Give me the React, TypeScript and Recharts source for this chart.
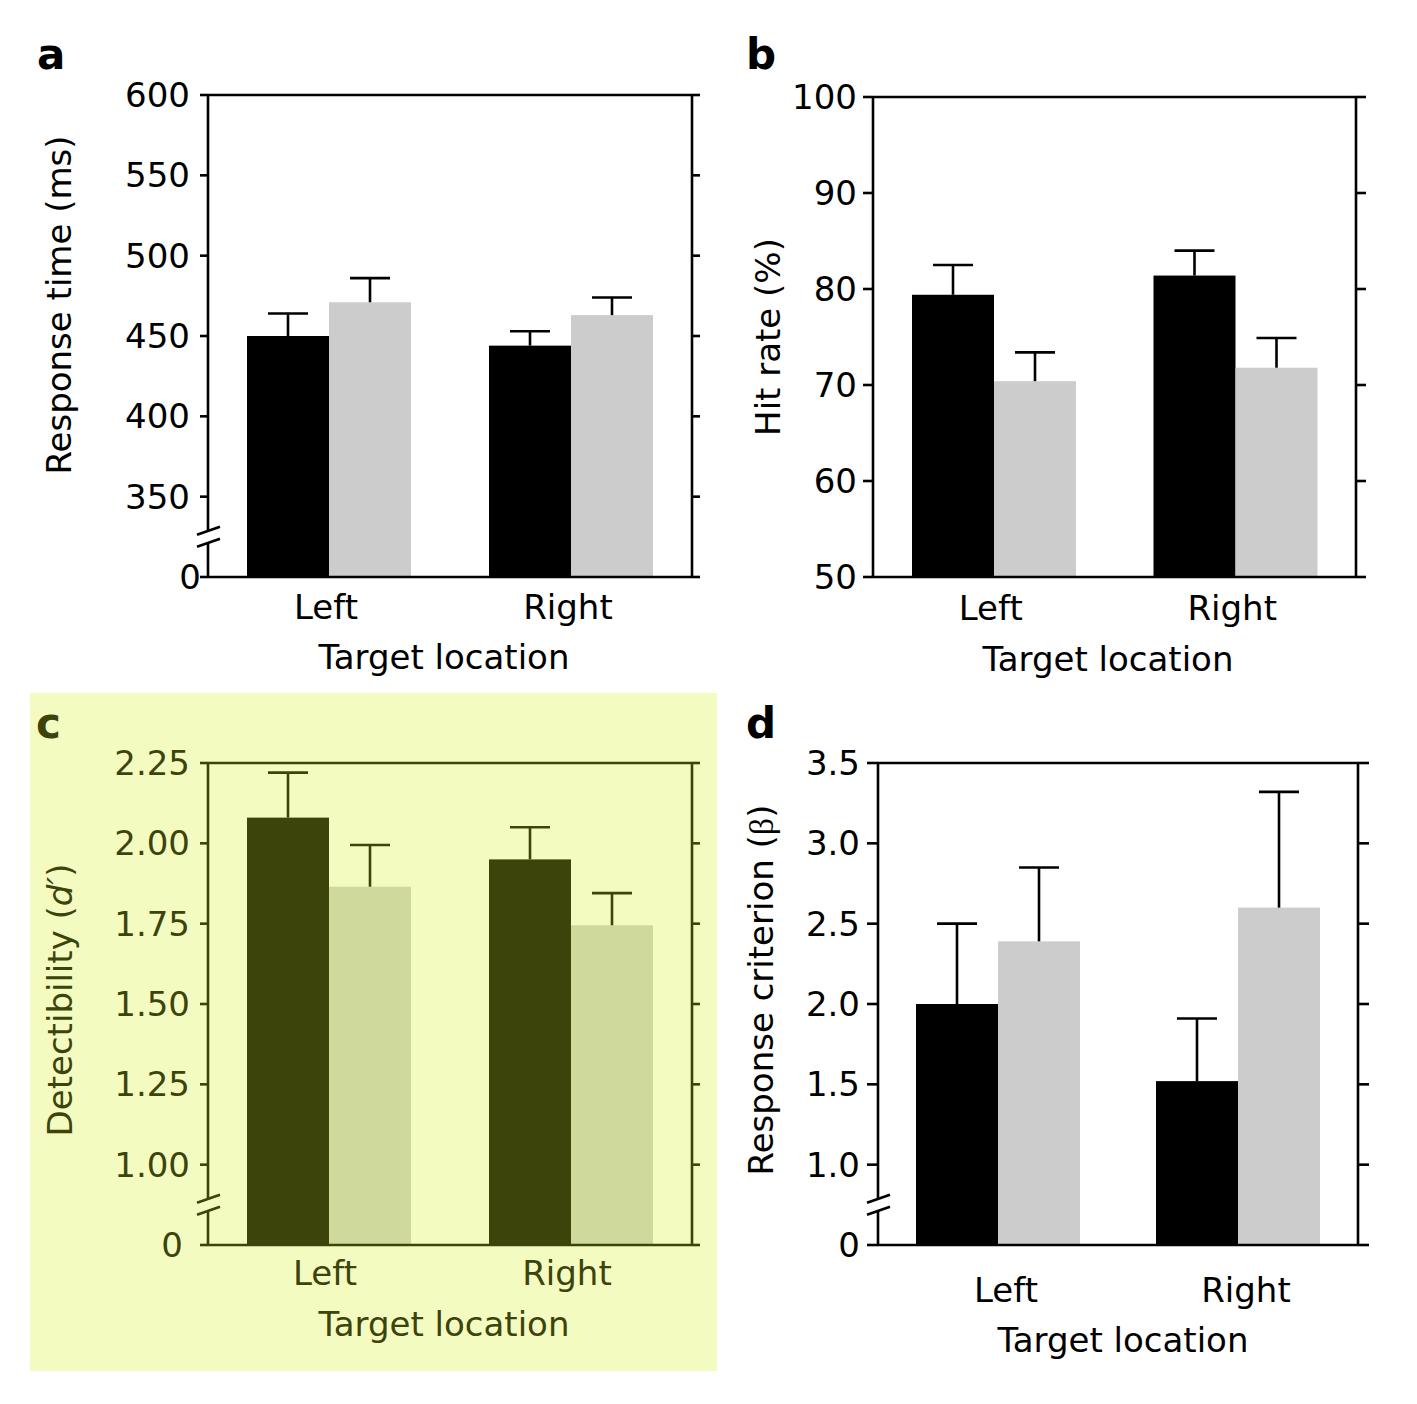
import React from 'react';
import { BarChart, Bar, XAxis, YAxis, ReferenceLine } from 'recharts';

const categories = ['Left', 'Right'];

// a: response time (ms)
const rtDark = [450, 444];
const rtDarkErr = [14, 9];
const rtLight = [471, 463];
const rtLightErr = [15, 11];
const rtTicks = [300, 350, 400, 450, 500, 550, 600];
const rtTickLabels = ['0', '350', '400', '450', '500', '550', '600'];

// b: hit rate (%)
const hitDark = [79.4, 81.4];
const hitDarkErr = [3.1, 2.6];
const hitLight = [70.4, 71.8];
const hitLightErr = [3.0, 3.1];
const hitTicks = [50, 60, 70, 80, 90, 100];
const hitTickLabels = ['50', '60', '70', '80', '90', '100'];

// c: detectibility d'
const dpDark = [2.08, 1.95];
const dpDarkErr = [0.14, 0.1];
const dpLight = [1.865, 1.745];
const dpLightErr = [0.13, 0.1];
const dpTicks = [0.75, 1, 1.25, 1.5, 1.75, 2, 2.25];
const dpTickLabels = ['0', '1.00', '1.25', '1.50', '1.75', '2.00', '2.25'];

// d: response criterion beta
const betaDark = [2.0, 1.52];
const betaDarkErr = [0.5, 0.39];
const betaLight = [2.39, 2.6];
const betaLightErr = [0.46, 0.72];
const betaTicks = [0.5, 1, 1.5, 2, 2.5, 3, 3.5];
const betaTickLabels = ['0', '1.0', '1.5', '2.0', '2.5', '3.0', '3.5'];

const FONT = "'DejaVu Sans', sans-serif";
const SW = 2.6;
const TICK_MARGIN = 10;

const rows = (dark: number[], darkErr: number[], light: number[], lightErr: number[]) =>
  categories.map((name, i) => ({
    name,
    dark: dark[i],
    darkErr: darkErr[i],
    light: light[i],
    lightErr: lightErr[i],
  }));

// bar + upward-only error bar, scaled from the bar the library drew
const barShape = (fill: string, key: string, errKey: string, base: number, ink: string) => (p: any) => {
  const { x, y, width, height, payload } = p;
  const ppu = height / (payload[key] - base);
  const top = y - payload[errKey] * ppu;
  const cx = x + width / 2;
  return (
    <g>
      <rect x={x} y={y} width={width} height={height} fill={fill} />
      <line x1={cx} y1={y} x2={cx} y2={top} stroke={ink} strokeWidth={SW} />
      <line x1={cx - 20} y1={top} x2={cx + 20} y2={top} stroke={ink} strokeWidth={SW} />
    </g>
  );
};

const YTick = (props: any) => {
  const { x, y, payload, cfg } = props;
  const ax = x + cfg.tickLen + TICK_MARGIN;
  if (cfg.breakAt !== undefined && payload.value === cfg.breakAt) {
    return (
      <g>
        <rect x={ax - 3} y={y - 6} width={6} height={12} fill={cfg.bg} />
        <line x1={ax - 11} y1={y - 2} x2={ax + 12} y2={y - 10} stroke={cfg.ink} strokeWidth={SW} />
        <line x1={ax - 11} y1={y + 10} x2={ax + 12} y2={y + 2} stroke={cfg.ink} strokeWidth={SW} />
      </g>
    );
  }
  const idx = cfg.ticks.indexOf(payload.value);
  const isZero = idx === 0;
  return (
    <g>
      <line x1={ax - cfg.tickLen} y1={y} x2={ax} y2={y} stroke={cfg.ink} strokeWidth={SW} />
      <text
        x={ax - cfg.labelGap + (isZero ? cfg.zeroShift : 0)}
        y={y}
        dy="0.355em"
        textAnchor="end"
        fontSize={34}
        fontFamily={FONT}
        fill={cfg.ink}
      >
        {cfg.tickLabels[idx]}
      </text>
    </g>
  );
};

// right-hand axis: tick mark only, no label
const RTick = (props: any) => {
  const { x, y, cfg } = props;
  return <line x1={x - cfg.tickLen} y1={y} x2={x} y2={y} stroke={cfg.ink} strokeWidth={SW} />;
};

const XTick = (props: any) => {
  const { x, y, payload, ink, shift } = props;
  return (
    <text x={x + shift} y={y} dy="0.71em" textAnchor="middle" fontSize={34} fontFamily={FONT} fill={ink}>
      {payload.value}
    </text>
  );
};

const Panel = ({ cfg }: { cfg: any }) => {
  const { box, plot, ink } = cfg;
  const yw = 8;
  const rw = 10;
  const xh = 50;
  const margin = {
    left: plot.l - box.x - yw,
    right: box.x + box.w - plot.r - rw,
    top: plot.t - box.y,
    bottom: box.y + box.h - plot.b - xh,
  };
  const min = cfg.ticks[0];
  const max = cfg.ticks[cfg.ticks.length - 1];
  const leftTicks = cfg.breakAt !== undefined ? [...cfg.ticks, cfg.breakAt] : cfg.ticks;
  const ox = box.x;
  const oy = box.y;
  return (
    <div style={{ position: 'absolute', left: box.x, top: box.y, width: box.w, height: box.h }}>
      <BarChart
        width={box.w}
        height={box.h}
        data={cfg.data}
        margin={margin}
        barGap={0}
        barSize={82}
        style={{ fontFamily: FONT }}
      >
        <XAxis
          dataKey="name"
          interval={0}
          height={xh}
          tickLine={false}
          tickSize={0}
          tickMargin={cfg.xMargin}
          axisLine={{ stroke: ink, strokeWidth: SW }}
          tick={(p: any) => <XTick {...p} ink={ink} shift={cfg.xShift} />}
        />
        <YAxis
          domain={[min, max]}
          ticks={leftTicks}
          interval={0}
          width={yw}
          allowDataOverflow
          tickSize={cfg.tickLen}
          tickMargin={TICK_MARGIN}
          tickLine={false}
          axisLine={{ stroke: ink, strokeWidth: SW }}
          tick={(p: any) => <YTick {...p} cfg={cfg} />}
        />
        <YAxis
          yAxisId="r"
          orientation="right"
          domain={[min, max]}
          ticks={cfg.ticks}
          interval={0}
          width={rw}
          allowDataOverflow
          tickSize={cfg.tickLen}
          tickMargin={0}
          tickLine={false}
          axisLine={{ stroke: ink, strokeWidth: SW }}
          tick={(p: any) => <RTick {...p} cfg={cfg} />}
        />
        <ReferenceLine y={max} stroke={ink} strokeWidth={SW} />
        <Bar
          dataKey="dark"
          fill={cfg.dark}
          isAnimationActive={false}
          shape={barShape(cfg.dark, 'dark', 'darkErr', min, ink)}
        />
        <Bar
          dataKey="light"
          fill={cfg.light}
          isAnimationActive={false}
          shape={barShape(cfg.light, 'light', 'lightErr', min, ink)}
        />
        <text
          x={cfg.letter.x - ox}
          y={cfg.letter.y - oy}
          fontSize={42}
          fontWeight="bold"
          fontFamily={FONT}
          fill={ink}
        >
          {cfg.letter.text}
        </text>
        <text
          transform={`translate(${cfg.yTitle.x - ox},${cfg.yTitle.y - oy}) rotate(-90)`}
          textAnchor="middle"
          fontSize={34}
          fontFamily={FONT}
          fill={ink}
        >
          {cfg.yTitle.content}
        </text>
        <text
          x={cfg.xTitle.x - ox}
          y={cfg.xTitle.y - oy}
          textAnchor="middle"
          fontSize={34}
          fontFamily={FONT}
          fill={ink}
        >
          Target location
        </text>
      </BarChart>
    </div>
  );
};

const black = { ink: '#000000', dark: '#000000', light: '#cccccc', bg: '#ffffff' };
const olive = { ink: '#3c440c', dark: '#3c440c', light: '#d0d99c', bg: '#f4fbc0' };

const panels = [
  {
    ...black,
    data: rows(rtDark, rtDarkErr, rtLight, rtLightErr),
    ticks: rtTicks,
    tickLabels: rtTickLabels,
    breakAt: (rtTicks[0] + rtTicks[1]) / 2,
    box: { x: 0, y: 0, w: 710, h: 690 },
    plot: { l: 208, r: 692, t: 95, b: 577 },
    tickLen: 8,
    labelGap: 18,
    zeroShift: 11,
    xMargin: 18,
    xShift: -3,
    letter: { text: 'a', x: 37, y: 69 },
    yTitle: { content: 'Response time (ms)', x: 71, y: 305 },
    xTitle: { x: 444, y: 669 },
  },
  {
    ...black,
    data: rows(hitDark, hitDarkErr, hitLight, hitLightErr),
    ticks: hitTicks,
    tickLabels: hitTickLabels,
    box: { x: 710, y: 0, w: 707, h: 690 },
    plot: { l: 873, r: 1356, t: 97, b: 577 },
    tickLen: 10,
    labelGap: 16,
    zeroShift: 0,
    xMargin: 19,
    xShift: -3,
    letter: { text: 'b', x: 746, y: 69 },
    yTitle: { content: 'Hit rate (%)', x: 780, y: 337 },
    xTitle: { x: 1108, y: 671 },
  },
  {
    ...olive,
    data: rows(dpDark, dpDarkErr, dpLight, dpLightErr),
    ticks: dpTicks,
    tickLabels: dpTickLabels,
    breakAt: (dpTicks[0] + dpTicks[1]) / 2,
    box: { x: 0, y: 690, w: 710, h: 714 },
    plot: { l: 208, r: 692, t: 763, b: 1245 },
    tickLen: 8,
    labelGap: 18,
    zeroShift: -7,
    xMargin: 16,
    xShift: -4,
    letter: { text: 'c', x: 36, y: 738 },
    yTitle: {
      content: (
        <>
          Detectibility (<tspan fontStyle="italic">d′</tspan>)
        </>
      ),
      x: 72,
      y: 1000,
    },
    xTitle: { x: 444, y: 1336 },
  },
  {
    ...black,
    data: rows(betaDark, betaDarkErr, betaLight, betaLightErr),
    ticks: betaTicks,
    tickLabels: betaTickLabels,
    breakAt: (betaTicks[0] + betaTicks[1]) / 2,
    box: { x: 710, y: 690, w: 707, h: 714 },
    plot: { l: 878, r: 1358, t: 763, b: 1245 },
    tickLen: 11,
    labelGap: 18,
    zeroShift: 0,
    xMargin: 33,
    xShift: 8,
    letter: { text: 'd', x: 746, y: 738 },
    yTitle: {
      content: (
        <>
          Response criterion (<tspan fontFamily="'Liberation Serif', serif">β</tspan>)
        </>
      ),
      x: 773,
      y: 990,
    },
    xTitle: { x: 1123, y: 1352 },
  },
];

export default function App() {
  return (
    <div
      style={{
        position: 'absolute',
        left: 0,
        top: 0,
        width: 1417,
        height: 1404,
        background: '#ffffff',
        fontFamily: FONT,
      }}
    >
      <div
        style={{
          position: 'absolute',
          left: 30,
          top: 693,
          width: 687,
          height: 678,
          background: olive.bg,
        }}
      />
      {panels.map((cfg, i) => (
        <Panel key={i} cfg={cfg} />
      ))}
    </div>
  );
}
